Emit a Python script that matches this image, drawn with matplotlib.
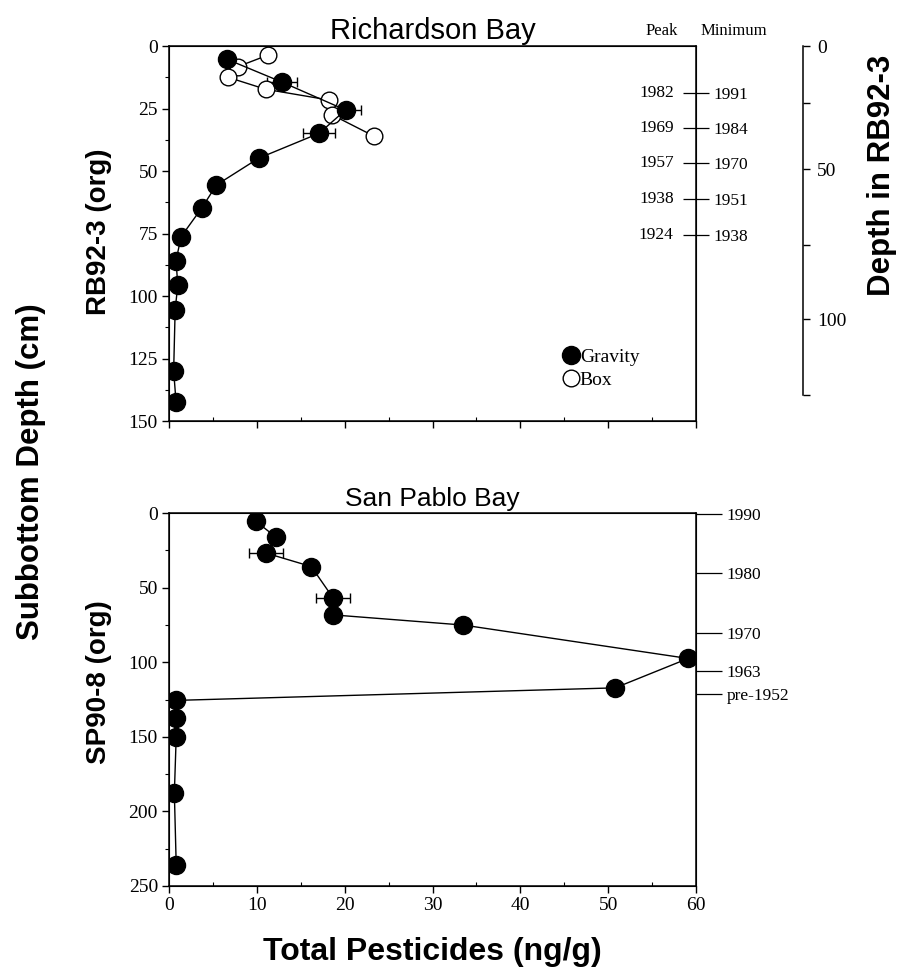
import numpy as np
import matplotlib
matplotlib.use("Agg")
from matplotlib import pyplot as plt
from matplotlib.lines import Line2D

SERIF = ['Liberation Serif', 'DejaVu Serif']
SANS = ['Liberation Sans', 'DejaVu Sans']

# Richardson Bay (RB92-3), gravity core
rb_grav_conc = [6.6, 12.9, 20.1, 17.1, 10.2, 5.4, 3.75, 1.37, 0.8, 1.0, 0.7, 0.53, 0.8]
rb_grav_depth = [5.3, 14.5, 25.6, 34.9, 44.9, 55.6, 64.7, 76.3, 85.9, 95.6, 105.6, 129.9, 142.3]
rb_grav_err = [0, 1.7, 1.8, 1.8, 0, 0, 0, 0, 0, 0, 0, 0, 0]

# Richardson Bay, box core
rb_box_conc = [11.3, 7.8, 6.7, 11.0, 18.2, 18.6, 23.3]
rb_box_depth = [3.6, 8.3, 12.5, 17.3, 21.6, 27.6, 36.0]

# San Pablo Bay (SP90-8), gravity core
sp_conc = [9.9, 12.2, 11.06, 16.2, 18.7, 18.7, 33.5, 59.1, 50.8, 0.82, 0.82, 0.82, 0.61, 0.82]
sp_depth = [5.6, 16.3, 26.9, 35.9, 57.1, 68.3, 75.1, 97.5, 117.2, 125.6, 137.3, 150.0, 187.8, 235.6]
sp_err = [0, 0, 1.9, 0, 1.95, 0, 0, 0, 0, 0, 0, 0, 0, 0]

# date markers, Richardson Bay
rb_date_depth = [18.8, 32.8, 46.8, 61.2, 75.6]
rb_peak_years = ['1982', '1969', '1957', '1938', '1924']
rb_min_years = ['1991', '1984', '1970', '1951', '1938']

# secondary depth axis (depth in RB92-3) on the subbottom scale
rb92_tick_pos = [0, 22.8, 49.2, 79.6, 109.2, 139.6]
rb92_tick_lab = ['0', '', '50', '', '100', '']

# date markers, San Pablo Bay
sp_date_depth = [1.0, 39.9, 80.2, 106.0, 121.4]
sp_years = ['1990', '1980', '1970', '1963', 'pre-1952']

W, H = 898, 976
fig = plt.figure(figsize=(W / 100, H / 100), dpi=100)


def px_axes(left, top, right, bottom):
    return fig.add_axes([left / W, 1 - bottom / H, (right - left) / W, (bottom - top) / H])


def style_main(ax, ymax, ymajor, yminor, xlabels):
    ax.set_xlim(0, 60)
    ax.set_ylim(ymax, 0)
    ax.set_xticks(np.arange(0, 61, 10))
    ax.set_xticks(np.arange(5, 60, 10), minor=True)
    ax.set_yticks(np.arange(0, ymax + 1, ymajor))
    ax.set_yticks(np.arange(yminor, ymax, ymajor), minor=True)
    ax.tick_params(axis='both', which='major', length=5, width=1, labelsize=14, pad=3)
    ax.tick_params(axis='both', which='minor', length=3, width=0.8)
    ax.tick_params(axis='x', which='minor', direction='in')
    if not xlabels:
        ax.tick_params(axis='x', labelbottom=False)
    for lab in ax.get_xticklabels() + ax.get_yticklabels():
        lab.set_family(SERIF)
    for s in ax.spines.values():
        s.set_linewidth(1.1)


grav_style = dict(marker='o', ms=13, mfc='black', mec='black', color='black', lw=1.0)
box_style = dict(marker='o', ms=12, mfc='white', mec='black', mew=1.0, color='black', lw=1.0)
label_font = dict(family=SANS, fontweight='bold', ha='center', va='center', rotation=90)

# ---------------- Richardson Bay ----------------
ax1 = px_axes(169, 46, 696, 421)
ax1.plot(rb_box_conc, rb_box_depth, zorder=2, **box_style)
ax1.plot(rb_grav_conc, rb_grav_depth, zorder=3, **grav_style)
idx = [i for i, e in enumerate(rb_grav_err) if e > 0]
ax1.errorbar([rb_grav_conc[i] for i in idx], [rb_grav_depth[i] for i in idx],
             xerr=[rb_grav_err[i] for i in idx], fmt='none', ecolor='black',
             elinewidth=1.0, capsize=3.5, capthick=1.0, zorder=1)
style_main(ax1, 150, 25, 12.5, xlabels=False)
ax1.set_title('Richardson Bay', family=SANS, fontsize=21, pad=5)

leg = ax1.legend(handles=[Line2D([], [], ls='none', marker='o', ms=13, mfc='black', mec='black'),
                          Line2D([], [], ls='none', marker='o', ms=12, mfc='white', mec='black')],
                 labels=['Gravity', 'Box'], loc='upper left', bbox_to_anchor=(0.737, 0.215),
                 frameon=False, handlelength=0.6, handletextpad=0.15, labelspacing=0.3,
                 borderaxespad=0, prop={'family': SERIF, 'size': 14})

# peak / minimum date ticks crossing the right spine
ax1r = ax1.twinx()
ax1r.set_ylim(150, 0)
ax1r.set_yticks(rb_date_depth)
ax1r.set_yticklabels(rb_min_years)
ax1r.tick_params(axis='y', direction='inout', length=19, width=0.9, labelsize=12.5, pad=3)
for lab in ax1r.get_yticklabels():
    lab.set_family(SERIF)
for d, yr in zip(rb_date_depth, rb_peak_years):
    ax1.annotate(yr, xy=(1, d), xycoords=('axes fraction', 'data'), xytext=(-16, 0),
                 textcoords='offset points', ha='right', va='center',
                 family=SERIF, fontsize=12.5, annotation_clip=False)
ax1.annotate('Peak', xy=(1, 1), xycoords='axes fraction', xytext=(-25, 11),
             textcoords='offset points', ha='center', va='center', family=SERIF, fontsize=12)
ax1.annotate('Minimum', xy=(1, 1), xycoords='axes fraction', xytext=(27, 11),
             textcoords='offset points', ha='center', va='center', family=SERIF, fontsize=12)

# depth in RB92-3 axis
axd = px_axes(802.5, 46, 803.3, 421)
axd.set_ylim(150, 0)
axd.patch.set_visible(False)
for name in ['left', 'top', 'bottom']:
    axd.spines[name].set_visible(False)
axd.spines['right'].set_bounds(0, rb92_tick_pos[-1])
axd.spines['right'].set_linewidth(1.1)
axd.xaxis.set_visible(False)
axd.yaxis.set_ticks_position('right')
axd.set_yticks(rb92_tick_pos)
axd.set_yticklabels(rb92_tick_lab)
axd.tick_params(axis='y', direction='out', length=5, width=1, labelsize=14, pad=5)
for lab in axd.get_yticklabels():
    lab.set_family(SERIF)
fig.text(882 / W, 1 - 175 / H, 'Depth in RB92-3', fontsize=22.5, **label_font)

# ---------------- San Pablo Bay ----------------
ax2 = px_axes(169, 513, 696, 886)
ax2.plot(sp_conc, sp_depth, zorder=3, **grav_style)
idx = [i for i, e in enumerate(sp_err) if e > 0]
ax2.errorbar([sp_conc[i] for i in idx], [sp_depth[i] for i in idx],
             xerr=[sp_err[i] for i in idx], fmt='none', ecolor='black',
             elinewidth=1.0, capsize=3.5, capthick=1.0, zorder=1)
style_main(ax2, 250, 50, 25, xlabels=True)
ax2.set_title('San Pablo Bay', family=SANS, fontsize=19, pad=5)

ax2r = ax2.twinx()
ax2r.set_ylim(250, 0)
ax2r.set_yticks(sp_date_depth)
ax2r.set_yticklabels(sp_years)
ax2r.tick_params(axis='y', direction='out', length=19, width=0.9, labelsize=12.5, pad=3)
for lab in ax2r.get_yticklabels():
    lab.set_family(SERIF)

# panel and figure labels
fig.text(99 / W, 1 - 232 / H, 'RB92-3 (org)', fontsize=20, **label_font)
fig.text(99 / W, 1 - 682 / H, 'SP90-8 (org)', fontsize=20, **label_font)
fig.text(31 / W, 1 - 472 / H, 'Subbottom Depth (cm)', fontsize=22.5, **label_font)
fig.text(432 / W, 1 - 952 / H, 'Total Pesticides (ng/g)', fontsize=23, family=SANS,
         fontweight='bold', ha='center', va='center')

fig.savefig('out.png', dpi=100)
